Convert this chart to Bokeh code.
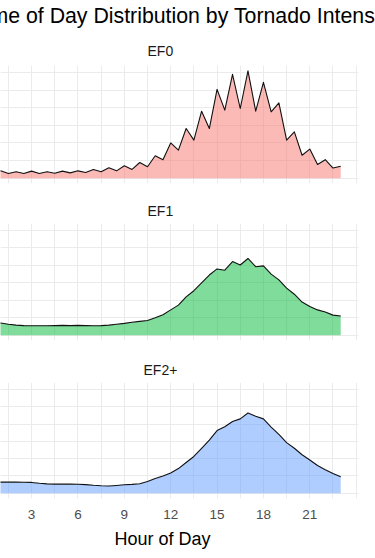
from bokeh.plotting import figure
from bokeh.models import Range1d, FixedTicker, Grid, Title, ColumnDataSource
from bokeh.layouts import column
from bokeh.embed import file_html
from bokeh.resources import INLINE

title_text = "Time of Day Distribution by Tornado Intensity"
x_label = "Hour of Day"
panel_names = ["EF0", "EF1", "EF2+"]

hours = [0.0, 0.5, 1.0, 1.5, 2.0, 2.5, 3.0, 3.5, 4.0, 4.5, 5.0, 5.5,
         6.0, 6.5, 7.0, 7.5, 8.0, 8.5, 9.0, 9.5, 10.0, 10.5, 11.0, 11.5,
         12.0, 12.5, 13.0, 13.5, 14.0, 14.5, 15.0, 15.5, 16.0, 16.5, 17.0, 17.5,
         18.0, 18.5, 19.0, 19.5, 20.0, 20.5, 21.0, 21.5, 22.0, 22.5, 23.0]

ef0_density = [0.0085, 0.0055, 0.0083, 0.0053, 0.0072, 0.0053, 0.0080, 0.0053,
               0.0072, 0.0055, 0.0080, 0.0060, 0.0083, 0.0065, 0.0099, 0.0072,
               0.0117, 0.0083, 0.0140, 0.0099, 0.0178, 0.0129, 0.0255, 0.0210,
               0.0400, 0.0318, 0.0564, 0.0432, 0.0761, 0.0564, 0.1010, 0.0773,
               0.1180, 0.0792, 0.1220, 0.0761, 0.1090, 0.0754, 0.0856, 0.0432,
               0.0527, 0.0260, 0.0330, 0.0155, 0.0210, 0.0115, 0.0136]

ef1_density = [0.0150, 0.0148, 0.0140, 0.0125, 0.0115, 0.0110, 0.0108, 0.0108,
               0.0108, 0.0110, 0.0112, 0.0110, 0.0112, 0.0110, 0.0108, 0.0110,
               0.0115, 0.0125, 0.0135, 0.0148, 0.0158, 0.0168, 0.0200, 0.0235,
               0.0290, 0.0345, 0.0440, 0.0510, 0.0600, 0.0690, 0.0760, 0.0745,
               0.0845, 0.0805, 0.0880, 0.0785, 0.0795, 0.0700, 0.0635, 0.0540,
               0.0470, 0.0380, 0.0330, 0.0290, 0.0265, 0.0230, 0.0220]

ef2_density = [0.0130, 0.0130, 0.0129, 0.0128, 0.0128, 0.0127, 0.0125, 0.0115,
               0.0108, 0.0105, 0.0105, 0.0105, 0.0104, 0.0100, 0.0092, 0.0086,
               0.0083, 0.0090, 0.0098, 0.0102, 0.0110, 0.0135, 0.0170, 0.0200,
               0.0235, 0.0285, 0.0355, 0.0425, 0.0520, 0.0615, 0.0725, 0.0770,
               0.0830, 0.0860, 0.0928, 0.0890, 0.0860, 0.0765, 0.0680, 0.0585,
               0.0520, 0.0445, 0.0385, 0.0320, 0.0272, 0.0228, 0.0190]

x_major = [0, 3, 6, 9, 12, 15, 18, 21]
x_minor = [1.5, 4.5, 7.5, 10.5, 13.5, 16.5, 19.5, 22.5, 24]
y_major = [0.0, 0.04, 0.08, 0.12]
y_minor = [0.02, 0.06, 0.10]
fill_colors = ["#F8766D", "#00BA38", "#619CFF"]

FONT = "Liberation Sans"
GRID = "#ebebeb"

ymax = max(max(ef0_density), max(ef1_density), max(ef2_density))
x_range = Range1d(0.99, 24.15)
y_range = Range1d(-0.05 * ymax, 1.05 * ymax)


def make_panel(name, values, color, height, top, bottom, with_axis,
               strip_offset, strip_standoff):
    p = figure(width=375, height=height, x_range=x_range, y_range=y_range,
               output_backend="svg", toolbar_location=None, title=None,
               y_axis_location=None,
               x_axis_location="below" if with_axis else None,
               min_border_left=0, min_border_right=17,
               min_border_top=top, min_border_bottom=bottom)
    p.outline_line_color = None
    p.background_fill_color = "white"
    p.border_fill_color = "white"
    for g in p.grid:
        g.visible = False
    p.add_layout(Grid(dimension=0, ticker=FixedTicker(ticks=x_major, minor_ticks=x_minor),
                      grid_line_color=GRID, grid_line_width=1,
                      minor_grid_line_color=GRID, minor_grid_line_width=1))
    p.add_layout(Grid(dimension=1, ticker=FixedTicker(ticks=y_major, minor_ticks=y_minor),
                      grid_line_color=GRID, grid_line_width=1,
                      minor_grid_line_color=GRID, minor_grid_line_width=1))

    src = ColumnDataSource(dict(x=hours, y=values))
    p.varea(x="x", y1=0, y2="y", source=src, fill_color=color, fill_alpha=0.5)
    p.line(x="x", y="y", source=src, line_color="#111111", line_width=1.1,
           line_join="round")

    p.add_layout(Title(text=name, align="left", offset=strip_offset,
                       standoff=strip_standoff,
                       text_font=FONT, text_font_size="14px",
                       text_font_style="normal", text_color="#1a1a1a"), "above")

    if with_axis:
        ax = p.xaxis[0]
        ax.ticker = FixedTicker(ticks=x_major)
        ax.axis_line_color = None
        ax.major_tick_line_color = None
        ax.minor_tick_line_color = None
        ax.major_tick_out = 0
        ax.major_tick_in = 0
        ax.major_label_standoff = 11
        ax.major_label_text_font = FONT
        ax.major_label_text_font_size = "13.5px"
        ax.major_label_text_color = "#4d4d4d"
        p.add_layout(Title(text=x_label, align="left", offset=114,
                           text_font=FONT, text_font_size="18px",
                           text_font_style="normal", text_color="black"), "below")
    return p


p1 = make_panel(panel_names[0], ef0_density, fill_colors[0], 188, 65, 5, False, 147, 14)
p1.add_layout(Title(text=title_text, align="left", offset=-27, standoff=7,
                    vertical_align="top",
                    text_font=FONT, text_font_size="21.3px",
                    text_font_style="normal", text_color="black"), "above")
p2 = make_panel(panel_names[1], ef1_density, fill_colors[1], 157, 35, 5, False, 147, 10)
p3 = make_panel(panel_names[2], ef2_density, fill_colors[2], 213, 37, 60, True, 143, 10)

layout = column(p1, p2, p3, spacing=0)
open("out.html", "w").write(file_html(layout, INLINE))
